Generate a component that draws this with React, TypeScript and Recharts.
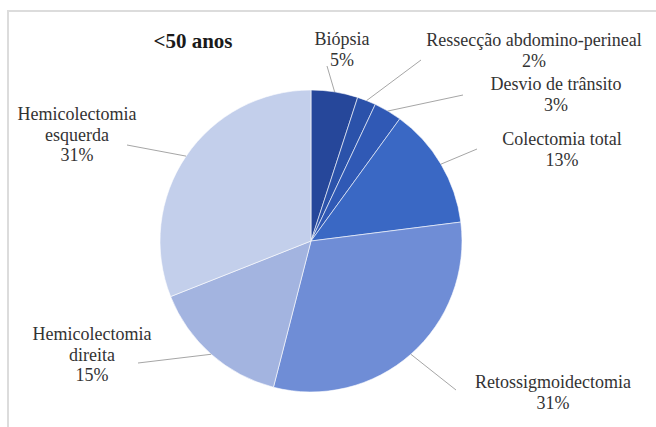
import { PieChart, Pie, Cell } from "recharts";

const categories = [
  "Biópsia",
  "Ressecção abdomino-perineal",
  "Desvio de trânsito",
  "Colectomia total",
  "Retossigmoidectomia",
  "Hemicolectomia direita",
  "Hemicolectomia esquerda",
];
const values = [5, 2, 3, 13, 31, 15, 31];
// label text lines (the chart wraps some category names)
const labelLines = [
  ["Biópsia"],
  ["Ressecção abdomino-perineal"],
  ["Desvio de trânsito"],
  ["Colectomia total"],
  ["Retossigmoidectomia"],
  ["Hemicolectomia", "direita"],
  ["Hemicolectomia", "esquerda"],
];

const colors = ["#26479a", "#2b52aa", "#3059b5", "#3a68c4", "#6f8dd6", "#a3b4e0", "#c3cfeb"];

// where each label sits: end of leader line (ex, ey), text centre tx, first baseline ty
const labelLayout = [
  { ex: 327, ey: 66, tx: 342, ty: 45 },
  { ex: 421, ey: 60, tx: 534, ty: 46 },
  { ex: 463, ey: 95, tx: 556, ty: 90 },
  { ex: 477, ey: 149, tx: 562, ty: 145 },
  { ex: 456, ey: 390, tx: 553, ty: 388 },
  { ex: 138, ey: 363, tx: 92, ty: 340 },
  { ex: 127, ey: 145, tx: 77, ty: 120 },
];

const data = categories.map((name, i) => ({ name, value: values[i] }));

const RAD = Math.PI / 180;
const LINE_H = 20.5;
const SERIF =
  '"Liberation Serif", "Times New Roman", Times, "Nimbus Roman", Tinos, "Noto Serif", "DejaVu Serif", FreeSerif, serif';

function renderLabel(props: any) {
  const { cx, cy, midAngle, outerRadius, percent, index } = props;
  const lay = labelLayout[index];
  const sx = cx + outerRadius * Math.cos(-midAngle * RAD);
  const sy = cy + outerRadius * Math.sin(-midAngle * RAD);
  const lines = [...labelLines[index], `${Math.round(percent * 100)}%`];
  return (
    <g key={`lbl-${index}`}>
      <line x1={sx} y1={sy} x2={lay.ex} y2={lay.ey} stroke="#a6a6a6" strokeWidth={1} />
      <text
        x={lay.tx}
        y={lay.ty}
        textAnchor="middle"
        style={{ fontFamily: SERIF, fontSize: 18 }}
        fill="#333333"
      >
        {lines.map((l, j) => (
          <tspan key={j} x={lay.tx} y={lay.ty + j * LINE_H}>
            {l}
          </tspan>
        ))}
      </text>
    </g>
  );
}

export default function App() {
  return (
    <div
      style={{
        position: "absolute",
        left: 0,
        top: 0,
        width: 656,
        height: 427,
        background: "#ffffff",
        overflow: "hidden",
      }}
    >
      {/* frame */}
      <div
        style={{
          position: "absolute",
          left: 7,
          top: 10,
          right: -5,
          bottom: -5,
          borderTop: "2px solid #dcdcdc",
          borderLeft: "2px solid #dcdcdc",
        }}
      />
      <div
        style={{
          position: "absolute",
          left: 133,
          top: 29,
          width: 120,
          textAlign: "center",
          fontFamily: SERIF,
          fontWeight: "bold",
          fontSize: 21,
          color: "#1a1a1a",
        }}
      >
        &lt;50 anos
      </div>
      <div style={{ position: "absolute", left: 0, top: 0 }}>
        <PieChart width={656} height={427} margin={{ top: 0, right: 0, bottom: 0, left: 0 }}>
          <Pie
            data={data}
            dataKey="value"
            nameKey="name"
            cx={311}
            cy={241}
            outerRadius={151}
            startAngle={90}
            endAngle={-270}
            stroke="#ffffff"
            strokeWidth={0.6}
            label={renderLabel}
            labelLine={false}
            isAnimationActive={false}
          >
            {data.map((d, i) => (
              <Cell key={d.name} fill={colors[i]} />
            ))}
          </Pie>
        </PieChart>
      </div>
    </div>
  );
}
